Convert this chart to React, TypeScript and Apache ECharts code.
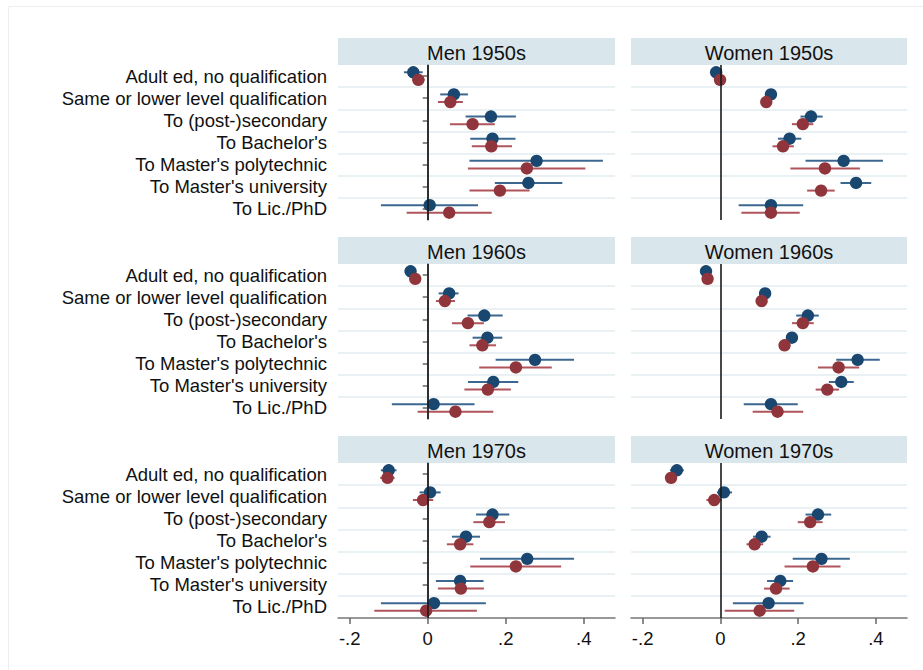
import React, { useEffect, useRef } from "react";
import * as echarts from "echarts";

const categories = [
  "Adult ed, no qualification",
  "Same or lower level qualification",
  "To (post-)secondary",
  "To Bachelor's",
  "To Master's polytechnic",
  "To Master's university",
  "To Lic./PhD",
];

const panelTitles = ["Men 1950s", "Women 1950s", "Men 1960s", "Women 1960s", "Men 1970s", "Women 1970s"];

const xTicks = [-0.2, 0, 0.2, 0.4];

// [estimate, lower, upper]
const men1950sBlue = [[-0.037, -0.061, -0.013], [0.067, 0.032, 0.103], [0.162, 0.097, 0.226], [0.166, 0.109, 0.225], [0.279, 0.107, 0.449], [0.258, 0.172, 0.345], [0.005, -0.12, 0.129]];
const men1950sRed = [[-0.024, -0.04, -0.008], [0.058, 0.026, 0.09], [0.115, 0.057, 0.172], [0.163, 0.113, 0.216], [0.254, 0.103, 0.404], [0.185, 0.107, 0.261], [0.055, -0.054, 0.164]];
const women1950sBlue = [[-0.011, -0.02, -0.002], [0.13, 0.122, 0.138], [0.233, 0.206, 0.263], [0.178, 0.148, 0.208], [0.317, 0.219, 0.418], [0.349, 0.309, 0.388], [0.13, 0.047, 0.213]];
const women1950sRed = [[-0.001, -0.008, 0.006], [0.118, 0.11, 0.126], [0.212, 0.184, 0.239], [0.161, 0.134, 0.189], [0.269, 0.18, 0.359], [0.259, 0.223, 0.294], [0.13, 0.054, 0.204]];
const men1960sBlue = [[-0.044, -0.054, -0.034], [0.055, 0.028, 0.079], [0.145, 0.102, 0.192], [0.153, 0.115, 0.191], [0.275, 0.174, 0.375], [0.168, 0.103, 0.232], [0.015, -0.092, 0.12]];
const men1960sRed = [[-0.032, -0.041, -0.023], [0.044, 0.021, 0.07], [0.103, 0.062, 0.144], [0.14, 0.107, 0.175], [0.226, 0.132, 0.318], [0.154, 0.094, 0.213], [0.071, -0.026, 0.168]];
const women1960sBlue = [[-0.037, -0.044, -0.03], [0.115, 0.108, 0.122], [0.225, 0.195, 0.253], [0.184, 0.172, 0.196], [0.353, 0.298, 0.41], [0.311, 0.279, 0.343], [0.13, 0.06, 0.199]];
const women1960sRed = [[-0.033, -0.04, -0.026], [0.106, 0.099, 0.113], [0.212, 0.184, 0.24], [0.165, 0.153, 0.177], [0.304, 0.251, 0.357], [0.275, 0.245, 0.305], [0.147, 0.083, 0.213]];
const men1970sBlue = [[-0.1, -0.12, -0.08], [0.006, -0.021, 0.033], [0.166, 0.124, 0.209], [0.098, 0.062, 0.134], [0.255, 0.134, 0.375], [0.083, 0.021, 0.143], [0.016, -0.12, 0.149]];
const men1970sRed = [[-0.103, -0.122, -0.085], [-0.012, -0.038, 0.014], [0.158, 0.117, 0.198], [0.083, 0.049, 0.117], [0.226, 0.109, 0.342], [0.085, 0.026, 0.144], [-0.004, -0.137, 0.126]];
const women1970sBlue = [[-0.112, -0.13, -0.094], [0.009, -0.009, 0.03], [0.251, 0.219, 0.285], [0.106, 0.084, 0.129], [0.26, 0.186, 0.333], [0.154, 0.12, 0.187], [0.124, 0.032, 0.214]];
const women1970sRed = [[-0.127, -0.142, -0.112], [-0.016, -0.036, 0.003], [0.231, 0.199, 0.263], [0.088, 0.067, 0.11], [0.238, 0.165, 0.309], [0.143, 0.112, 0.178], [0.101, 0.011, 0.19]];

const blueData = [men1950sBlue, women1950sBlue, men1960sBlue, women1960sBlue, men1970sBlue, women1970sBlue];
const redData = [men1950sRed, women1950sRed, men1960sRed, women1960sRed, men1970sRed, women1970sRed];

const FONT = "Liberation Sans, Arial, sans-serif";
const BLUE = "#1a476f";
const BLUE_CI = "#3b6790";
const RED = "#90353b";
const RED_CI = "#b0555c";

const colLeft = [338, 631];
const colWidth = [277, 276];
const rowTop = [65, 264, 463];
const plotH = 155;
const headerH = 27;

function fmtTick(v: number) {
  if (Math.abs(v) < 1e-9) return "0";
  return v.toFixed(1).replace("0.", ".");
}

export default function App() {
  const ref = useRef<HTMLDivElement>(null);
  useEffect(() => {
    if (!ref.current) return;
    const chart = echarts.init(ref.current, null, { renderer: "svg" });
    const grids: any[] = [];
    const xAxes: any[] = [];
    const yAxes: any[] = [];
    const series: any[] = [];
    const graphics: any[] = [
      {
        type: "rect",
        shape: { x: 8.5, y: 6.5, width: 920, height: 670 },
        style: { fill: "none", stroke: "#eeeeee", lineWidth: 1 },
        silent: true,
      },
    ];
    for (let i = 0; i < 6; i++) {
      const col = i % 2;
      const row = Math.floor(i / 2);
      const isLeft = col === 0;
      const isBottom = row === 2;
      grids.push({ left: colLeft[col], top: rowTop[row], width: colWidth[col], height: plotH });
      graphics.push({
        type: "rect",
        shape: { x: colLeft[col], y: rowTop[row] - headerH, width: colWidth[col], height: headerH },
        style: { fill: "#d9e6ec" },
        silent: true,
      });
      graphics.push({
        type: "text",
        x: colLeft[col] + colWidth[col] / 2,
        y: rowTop[row] - headerH / 2 + 1,
        style: {
          text: panelTitles[i],
          fill: "#111111",
          font: `20px ${FONT}`,
          align: "center",
          verticalAlign: "middle",
        },
        silent: true,
      });
      xAxes.push({
        type: "value",
        gridIndex: i,
        min: -0.23,
        max: 0.48,
        show: isBottom,
        splitLine: { show: false },
        axisLine: { show: true, onZero: false, lineStyle: { color: "#777777", width: 1.5 } },
        axisTick: { show: true, length: 6, customValues: xTicks, lineStyle: { color: "#666666", width: 1.5 } },
        axisLabel: {
          show: true,
          customValues: xTicks,
          formatter: fmtTick,
          fontFamily: FONT,
          fontSize: 18.5,
          color: "#111111",
          margin: 11,
        },
      });
      yAxes.push({
        type: "category",
        gridIndex: i,
        data: categories,
        inverse: true,
        axisLine: { show: isLeft, lineStyle: { color: "#666666", width: 1.5 } },
        axisTick: { show: isLeft, alignWithLabel: true, length: 5, lineStyle: { color: "#666666", width: 1.5 } },
        axisLabel: {
          show: isLeft,
          fontFamily: FONT,
          fontSize: 18.5,
          color: "#111111",
          margin: 11,
          interval: 0,
        },
        splitLine: {
          show: true,
          showMinLine: false,
          showMaxLine: false,
          interval: 0,
          lineStyle: { color: "#e3ecf0", width: 1.5 },
        },
      });
      series.push({
        type: "line",
        xAxisIndex: i,
        yAxisIndex: i,
        data: [],
        z: 1,
        silent: true,
        markLine: {
          silent: true,
          symbol: "none",
          label: { show: false },
          lineStyle: { color: "#1a1a1a", width: 1.6, type: "solid" },
          data: [{ xAxis: 0 }],
        },
      });
      const mk = (name: string, arr: number[][], color: string, ciColor: string, dy: number) => ({
        type: "custom",
        name,
        xAxisIndex: i,
        yAxisIndex: i,
        z: 3,
        data: arr.map((d, k) => [d[0], d[1], d[2], k]),
        encode: { x: [0, 1, 2], y: 3 },
        renderItem: (params: any, api: any) => {
          const k = api.value(3);
          const p = api.coord([api.value(0), k]);
          const l = api.coord([api.value(1), k]);
          const h = api.coord([api.value(2), k]);
          const y = p[1] + dy;
          return {
            type: "group",
            children: [
              {
                type: "line",
                shape: { x1: l[0], y1: y, x2: h[0], y2: y },
                style: { stroke: ciColor, lineWidth: 2 },
              },
              {
                type: "circle",
                shape: { cx: p[0], cy: y, r: 6.2 },
                style: { fill: color },
              },
            ],
          };
        },
      });
      series.push(mk("Blue", blueData[i], BLUE, BLUE_CI, -3.8));
      series.push(mk("Red", redData[i], RED, RED_CI, 3.8));
    }
    chart.setOption({
      animation: false,
      backgroundColor: "#ffffff",
      grid: grids,
      xAxis: xAxes,
      yAxis: yAxes,
      series,
      graphic: graphics,
    });
    return () => chart.dispose();
  }, []);
  return <div ref={ref} style={{ position: "fixed", left: 0, top: 0, width: 923, height: 670 }} />;
}
